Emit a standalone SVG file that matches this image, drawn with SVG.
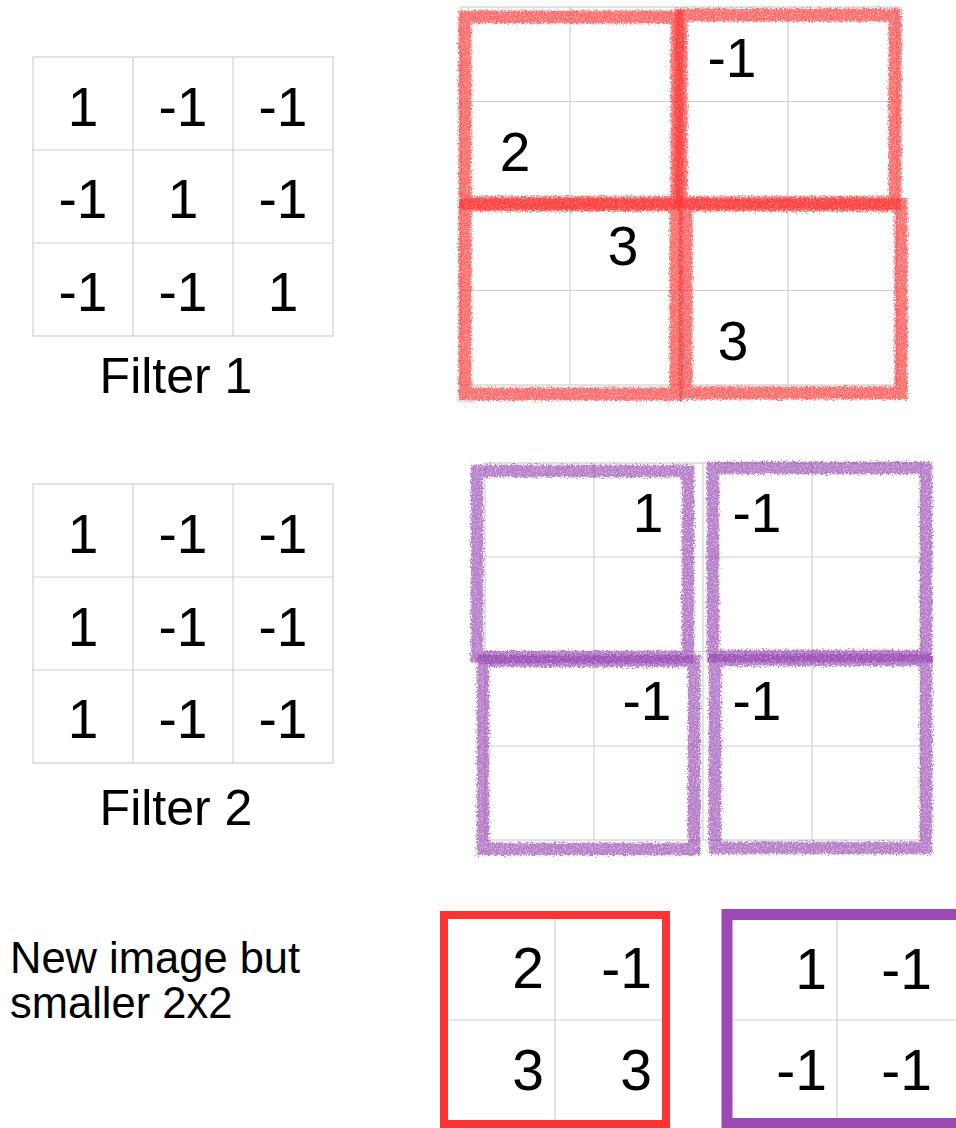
<svg xmlns="http://www.w3.org/2000/svg" width="956" height="1128" viewBox="0 0 956 1128">
<style>
  text { font-family: "Liberation Sans", Arial, sans-serif; fill: #000; }
  .d { font-size: 55px; text-anchor: middle; }
  .o { font-size: 57px; text-anchor: end; }
  .cap { font-size: 50px; text-anchor: middle; }
  .lab { font-size: 43.5px; }
  .g { fill: none; stroke: #cfcfcf; stroke-width: 1.2; }
  .rr { fill: none; stroke: #ff3030; stroke-opacity: 0.72; stroke-width: 13; filter: url(#rough); }
  .pr { fill: none; stroke: #9440b0; stroke-opacity: 0.68; stroke-width: 12.5; filter: url(#rough); }
</style>
<defs>
  <filter id="rough" x="-10%" y="-10%" width="120%" height="120%">
    <feTurbulence type="fractalNoise" baseFrequency="0.6" numOctaves="3" seed="4" result="n"/>
    <feDisplacementMap in="SourceGraphic" in2="n" scale="7" xChannelSelector="R" yChannelSelector="G" result="d"/>
    <feColorMatrix in="n" type="matrix" values="0 0 0 0 0  0 0 0 0 0  0 0 0 0 0  0 0 0 -1.6 1.75" result="m"/>
    <feComposite in="d" in2="m" operator="in"/>
  </filter>
</defs>
<rect width="956" height="1128" fill="#fff"/>

<g id="filter1">
  <rect class="g" x="33" y="57" width="300" height="279"/>
  <path class="g" d="M133 57V336M233 57V336M33 150H333M33 243H333"/>
  <text class="d" x="83" y="126">1</text>
  <text class="d" x="183" y="126">-1</text>
  <text class="d" x="283" y="126">-1</text>
  <text class="d" x="83" y="218">-1</text>
  <text class="d" x="183" y="218">1</text>
  <text class="d" x="283" y="218">-1</text>
  <text class="d" x="83" y="311">-1</text>
  <text class="d" x="183" y="311">-1</text>
  <text class="d" x="283" y="311">1</text>
  <text class="cap" x="176" y="393">Filter 1</text>
</g>

<g id="filter2">
  <rect class="g" x="33" y="484" width="300" height="279"/>
  <path class="g" d="M133 484V763M233 484V763M33 577H333M33 670H333"/>
  <text class="d" x="83" y="553">1</text>
  <text class="d" x="183" y="553">-1</text>
  <text class="d" x="283" y="553">-1</text>
  <text class="d" x="83" y="646">1</text>
  <text class="d" x="183" y="646">-1</text>
  <text class="d" x="283" y="646">-1</text>
  <text class="d" x="83" y="738">1</text>
  <text class="d" x="183" y="738">-1</text>
  <text class="d" x="283" y="738">-1</text>
  <text class="cap" x="176" y="825">Filter 2</text>
</g>

<g id="conv1">
  <rect class="g" x="461" y="7" width="436" height="378"/>
  <path class="g" d="M570 7V385M679 7V385M788 7V385M461 101.5H897M461 196H897M461 290.5H897"/>
  <rect class="rr" x="465" y="17" width="212" height="186"/>
  <rect class="rr" x="681" y="15" width="214" height="188"/>
  <rect class="rr" x="465" y="205" width="211" height="189"/>
  <rect class="rr" x="686" y="205" width="215" height="188"/>
  <text class="d" x="732" y="77">-1</text>
  <text class="d" x="515" y="171">2</text>
  <text class="d" x="623" y="265">3</text>
  <text class="d" x="733" y="360">3</text>
</g>

<g id="conv2">
  <rect class="g" x="485" y="463" width="436" height="377"/>
  <path class="g" d="M594 463V840M703 463V840M812 463V840M485 557H921M485 651.5H921M485 746H921"/>
  <rect class="pr" x="477" y="471" width="211" height="186"/>
  <rect class="pr" x="713" y="468" width="213" height="188"/>
  <rect class="pr" x="483" y="661" width="211" height="188"/>
  <rect class="pr" x="715" y="660" width="211" height="188"/>
  <text class="d" x="648" y="532">1</text>
  <text class="d" x="757" y="532">-1</text>
  <text class="d" x="647" y="720">-1</text>
  <text class="d" x="757" y="720">-1</text>
</g>

<g id="label">
  <text class="lab" x="10" y="972.5">New image but</text>
  <text class="lab" x="10" y="1018">smaller 2x2</text>
</g>

<g id="out1">
  <path class="g" d="M555 919V1122M447 1020H662"/>
  <rect x="444" y="915" width="222" height="209" fill="none" stroke="#ff3333" stroke-width="8"/>
  <text class="o" x="544" y="988">2</text>
  <text class="o" x="652" y="988">-1</text>
  <text class="o" x="544" y="1090">3</text>
  <text class="o" x="652" y="1090">3</text>
</g>

<g id="out2">
  <path class="g" d="M837 920V1121M732 1020H956"/>
  <rect x="727" y="914.5" width="260" height="209" fill="none" stroke="#9b4ab4" stroke-width="11"/>
  <text class="o" x="827" y="989">1</text>
  <text class="o" x="932" y="989">-1</text>
  <text class="o" x="827" y="1090">-1</text>
  <text class="o" x="932" y="1090">-1</text>
</g>
</svg>
